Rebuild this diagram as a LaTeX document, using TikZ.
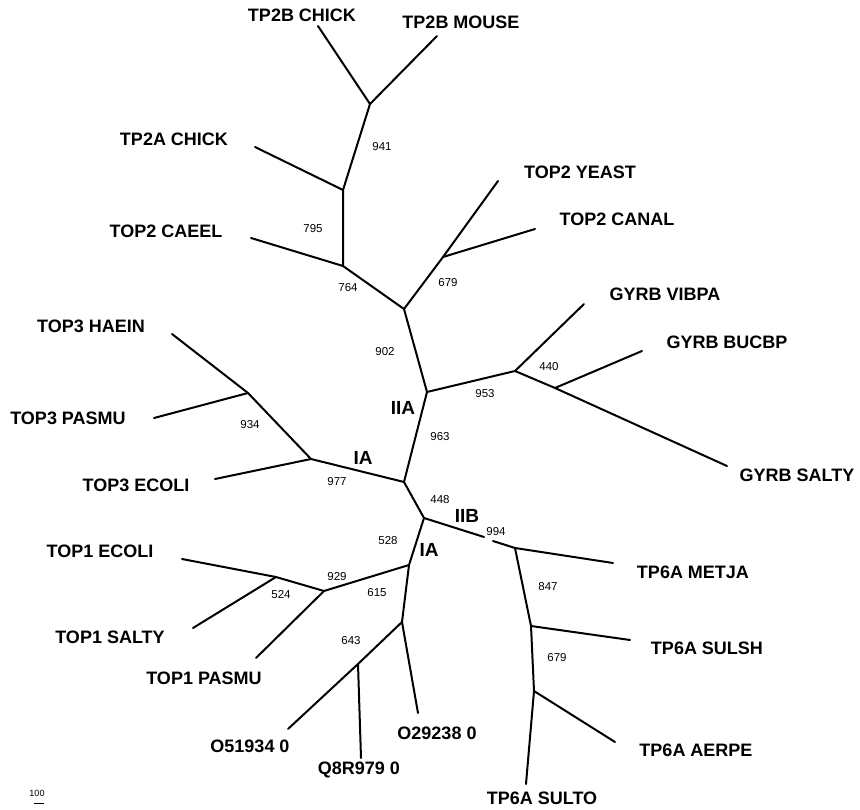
\documentclass[tikz,border=0pt]{standalone}
\usepackage{fontspec}
\setmainfont{Liberation Sans}
\begin{document}
\begin{tikzpicture}[x=1pt,y=-1pt,
  br/.style={line width=2pt,line cap=round,line join=round},
  leaf/.style={font=\fontsize{18}{18}\selectfont\bfseries,inner sep=0pt,anchor=center},
  bs/.style={font=\fontsize{11.5}{12}\selectfont,inner sep=0pt,anchor=center},
  grp/.style={font=\fontsize{19}{19}\selectfont\bfseries,inner sep=0pt,anchor=center}]
\useasboundingbox (0,0) rectangle (860,810);
% internal nodes
\coordinate (a941) at (370,104);
\coordinate (a795) at (343,190);
\coordinate (a764) at (343,266);
\coordinate (a902) at (404,309);
\coordinate (a679) at (443,257);
\coordinate (aIIA) at (427,392);
\coordinate (aGY) at (515,371);
\coordinate (aBU) at (555,388);
\coordinate (aC) at (404,482);
\coordinate (aT3) at (311,459);
\coordinate (a934) at (248,393);
\coordinate (aIIB) at (424,518);
\coordinate (g1) at (484,537);
\coordinate (g2) at (493,541);
\coordinate (a994) at (515,548);
\coordinate (a847) at (531,626);
\coordinate (a679b) at (534,691);
\coordinate (aIA2) at (409,565);
\coordinate (aT1) at (324,591);
\coordinate (a524) at (276,577);
\coordinate (a643) at (402,622);
\coordinate (aQ8) at (358,664);
% leaf ends
\coordinate (lTPBC) at (318,26);
\coordinate (lTPBM) at (437,36);
\coordinate (lTPAC) at (255,147);
\coordinate (lCAE) at (251,238);
\coordinate (lYEA) at (498,181);
\coordinate (lCAN) at (535,229);
\coordinate (lVIB) at (584,304);
\coordinate (lBUC) at (642,351);
\coordinate (lGSA) at (727,466);
\coordinate (lHAE) at (172,334);
\coordinate (lT3P) at (154,418);
\coordinate (lT3E) at (215,479);
\coordinate (lT1E) at (182,559);
\coordinate (lT1S) at (193,628);
\coordinate (lT1P) at (256,658);
\coordinate (lO51) at (288,729);
\coordinate (lQ8) at (361,758);
\coordinate (lO29) at (418,713);
\coordinate (lMET) at (613,563);
\coordinate (lSSH) at (630,640);
\coordinate (lAER) at (615,742);
\coordinate (lSTO) at (526,784);
% branches
\draw[br] (lTPBC) -- (a941) -- (lTPBM);
\draw[br] (a941) -- (a795) -- (a764) -- (a902) -- (aIIA) -- (aC) -- (aIIB) -- (aIA2) -- (a643) -- (aQ8) -- (lO51);
\draw[br] (a795) -- (lTPAC);
\draw[br] (a764) -- (lCAE);
\draw[br] (a902) -- (a679) -- (lYEA);
\draw[br] (a679) -- (lCAN);
\draw[br] (aIIA) -- (aGY) -- (lVIB);
\draw[br] (aGY) -- (aBU) -- (lBUC);
\draw[br] (aBU) -- (lGSA);
\draw[br] (aC) -- (aT3) -- (lT3E);
\draw[br] (aT3) -- (a934) -- (lHAE);
\draw[br] (a934) -- (lT3P);
\draw[br] (aIIB) -- (g1);
\draw[br] (g2) -- (a994) -- (lMET);
\draw[br] (a994) -- (a847) -- (lSSH);
\draw[br] (a847) -- (a679b) -- (lAER);
\draw[br] (a679b) -- (lSTO);
\draw[br] (aIA2) -- (aT1) -- (a524) -- (lT1E);
\draw[br] (a524) -- (lT1S);
\draw[br] (aT1) -- (lT1P);
\draw[br] (aQ8) -- (lQ8);
\draw[br] (a643) -- (lO29);
% leaf labels
\node[leaf] (tTPBC) at (302,15) {TP2B CHICK};
\node[leaf] (tTPBM) at (461,22) {TP2B MOUSE};
\node[leaf] (tTPAC) at (174,139) {TP2A CHICK};
\node[leaf] (tCAE) at (166,231) {TOP2 CAEEL};
\node[leaf] (tYEA) at (580,172) {TOP2 YEAST};
\node[leaf] (tCAN) at (617,219) {TOP2 CANAL};
\node[leaf] (tVIB) at (665,294) {GYRB VIBPA};
\node[leaf] (tBUC) at (727,342) {GYRB BUCBP};
\node[leaf] (tGSA) at (797,475) {GYRB SALTY};
\node[leaf] (tHAE) at (91,326) {TOP3 HAEIN};
\node[leaf] (tT3P) at (68,418) {TOP3 PASMU};
\node[leaf] (tT3E) at (136,485) {TOP3 ECOLI};
\node[leaf] (tT1E) at (100,551) {TOP1 ECOLI};
\node[leaf] (tT1S) at (110,637) {TOP1 SALTY};
\node[leaf] (tT1P) at (204,678) {TOP1 PASMU};
\node[leaf] (tO51) at (250,746) {O51934 0};
\node[leaf] (tQ8) at (359,770) {Q8R979 0};
\node[leaf] (tO29) at (437,733) {O29238 0};
\node[leaf] (tMET) at (693,572) {TP6A METJA};
\node[leaf] (tSSH) at (707,648) {TP6A SULSH};
\node[leaf] (tAER) at (696,750) {TP6A AERPE};
\node[leaf] (tSTO) at (542,798) {TP6A SULTO};
% bootstrap values
\node[bs] (b941) at (382,147) {941};
\node[bs] (b795) at (313,229) {795};
\node[bs] (b764) at (348,288) {764};
\node[bs] (b679) at (448,283) {679};
\node[bs] (b902) at (385,352) {902};
\node[bs] (b963) at (440,437) {963};
\node[bs] (b953) at (485,394) {953};
\node[bs] (b440) at (549,367) {440};
\node[bs] (b934) at (250,425) {934};
\node[bs] (b977) at (337,482) {977};
\node[bs] (b448) at (440,500) {448};
\node[bs] (b994) at (496,532) {994};
\node[bs] (b528) at (388,541) {528};
\node[bs] (b929) at (337,577) {929};
\node[bs] (b615) at (377,593) {615};
\node[bs] (b524) at (281,595) {524};
\node[bs] (b643) at (351,641) {643};
\node[bs] (b847) at (548,587) {847};
\node[bs] (b679b) at (557,658) {679};
% group labels
\node[grp] (gIIA) at (403,408) {IIA};
\node[grp] (gIA) at (363,458) {IA};
\node[grp] (gIIB) at (467,516) {IIB};
\node[grp] (gIA2) at (429,550) {IA};
% scale
\node[bs,font=\fontsize{9}{9}\selectfont] (s100) at (37,793) {100};
\coordinate (sb1) at (34,803);
\coordinate (sb2) at (44,803);
\draw[line width=0.9pt] (sb1) -- (sb2);
\end{tikzpicture}
\end{document}
